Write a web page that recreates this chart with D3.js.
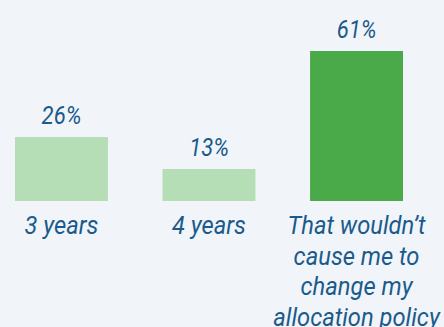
<!DOCTYPE html>
<html>
<head>
<meta charset="utf-8">
<script src="https://cdn.jsdelivr.net/npm/d3@7"></script>
<style>
  html, body { margin: 0; padding: 0; background: #f1f5f9; }
  svg { display: block; }
  text { font-family: Roboto, "Noto Sans", sans-serif; font-style: italic; fill: #1a5a8c; }
</style>
</head>
<body>
<svg id="chart" width="444" height="327"></svg>
<script>
// Survey responses: share of respondents per answer
const categories = ["3 years", "4 years", "That wouldn\u2019t cause me to change my allocation policy"];
const categoryLines = [["3 years"], ["4 years"], ["That wouldn\u2019t", "cause me to", "change my", "allocation policy"]];
const values = [26, 13, 61];
const barColors = ["#b5ddb6", "#b5ddb6", "#4aaa4a"];

const svg = d3.select("#chart");
const baseline = 201;
const fontSize = 25;
const squeeze = 0.95; // slightly condensed italic labels

const x = d3.scaleBand()
  .domain(categories)
  .range([15, 403])
  .paddingInner(0.37)
  .paddingOuter(0);

const y = d3.scaleLinear()
  .domain([0, 61])
  .range([baseline, 51]);

// bars
svg.selectAll("rect.bar")
  .data(values)
  .join("rect")
  .attr("class", "bar")
  .attr("x", (d, i) => x(categories[i]))
  .attr("y", d => y(d))
  .attr("width", x.bandwidth())
  .attr("height", d => y(0) - y(d))
  .attr("fill", (d, i) => barColors[i]);

// value labels above bars
svg.selectAll("text.value")
  .data(values)
  .join("text")
  .attr("class", "value")
  .attr("text-anchor", "middle")
  .attr("font-size", fontSize)
  .attr("transform", (d, i) =>
    `translate(${x(categories[i]) + x.bandwidth() / 2},${y(d) - 13}) scale(${squeeze * 0.93},1)`)
  .text(d => d + "%");

// category labels below bars
const lineHeight = 30.5;
const cat = svg.selectAll("g.cat")
  .data(categoryLines)
  .join("g")
  .attr("class", "cat")
  .attr("transform", (d, i) => `translate(${x(categories[i]) + x.bandwidth() / 2},${baseline + 33})`);

cat.selectAll("text")
  .data(d => d)
  .join("text")
  .attr("text-anchor", "middle")
  .attr("font-size", fontSize)
  .attr("transform", (d, j) => `translate(0,${j * lineHeight}) scale(${squeeze},1)`)
  .text(d => d);
</script>
</body>
</html>
